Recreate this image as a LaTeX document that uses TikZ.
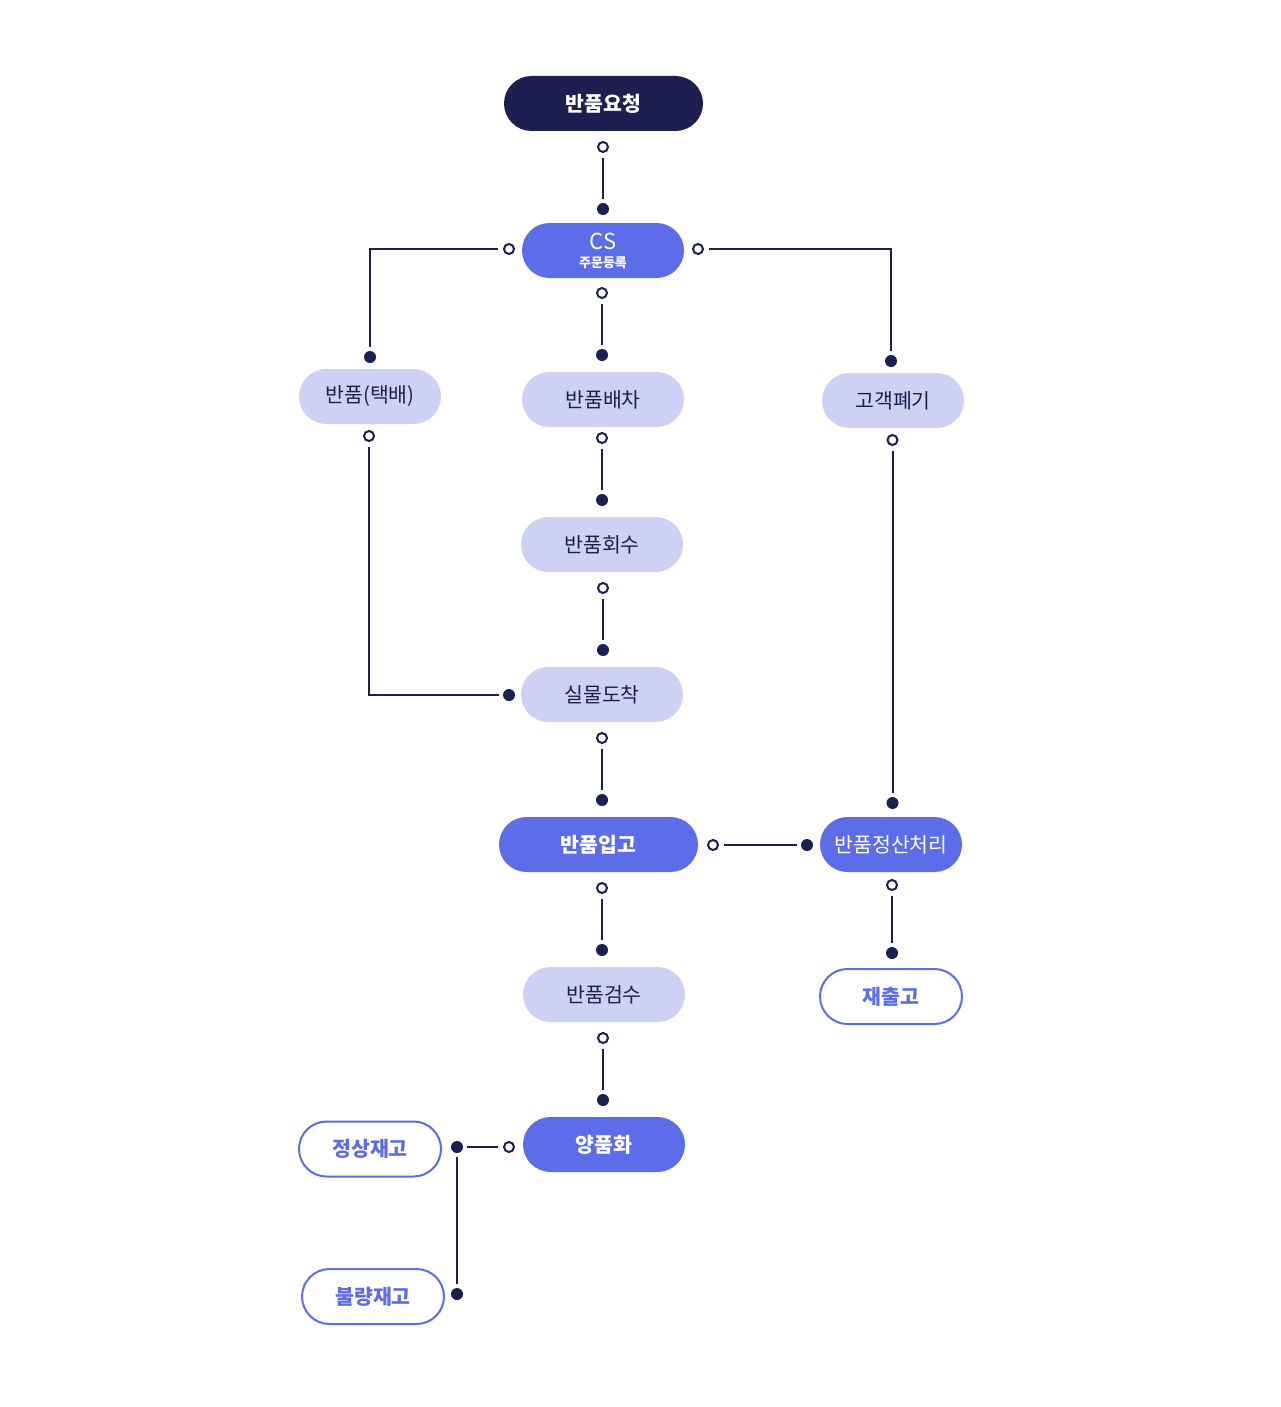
\documentclass[tikz,border=0pt]{standalone}
\usepackage{fontspec}
\setmainfont{Noto Sans CJK KR}
\definecolor{navy}{HTML}{1B2050}
\definecolor{bblue}{HTML}{5D6CE8}
\definecolor{lblue}{HTML}{CDD1F3}
\begin{document}
\begin{tikzpicture}[x=1pt,y=-1pt,
  box/.style={rounded corners=27.5pt, minimum height=55pt, inner sep=0pt, font=\fontsize{20.5}{22}\selectfont},
  darkbox/.style={box, fill=navy, text=white, font=\fontsize{20.5}{22}\selectfont\bfseries},
  bluebox/.style={box, fill=bblue, text=white, font=\fontsize{20.5}{22}\selectfont\bfseries},
  bluereg/.style={box, fill=bblue, text=white},
  lightbox/.style={box, fill=lblue, text=navy},
  outbox/.style={box, draw=bblue, line width=2pt, fill=white, text=bblue, font=\fontsize{20.5}{22}\selectfont\bfseries},
  ring/.style={circle, draw=navy, line width=2pt, fill=white, inner sep=0pt, minimum size=10pt, outer sep=6pt},
  dot/.style={circle, fill=navy, inner sep=0pt, minimum size=12pt, outer sep=4pt},
  conn/.style={draw=navy, line width=2pt}]
\useasboundingbox (0,0) rectangle (1280,1407);
\fill[white] (0,0) rectangle (1280,1407);

% boxes
\node[darkbox, minimum width=199pt] (req) at (603.5,103.5) {반품요청};
\node[bluebox, minimum width=162pt] (cs) at (603,250.5) {};
\node[text=white, font=\fontsize{22}{24}\selectfont] (cst) at (603,241) {CS};
\node[text=white, font=\fontsize{13}{14}\selectfont\bfseries] (csl) at (603,263) {주문등록};
\node[lightbox, minimum width=142pt] (tb) at (370,396.5) {반품(택배)};
\node[lightbox, minimum width=162pt] (bc) at (603,399.5) {반품배차};
\node[lightbox, minimum width=142pt] (cd) at (893,400.5) {고객폐기};
\node[lightbox, minimum width=162pt] (hs) at (602,544.5) {반품회수};
\node[lightbox, minimum width=162pt] (ar) at (602,694.5) {실물도착};
\node[bluebox, minimum width=199pt] (ib) at (598.5,844.5) {반품입고};
\node[bluereg, minimum width=142pt] (st) at (891,844.5) {반품정산처리};
\node[outbox, minimum width=142pt] (rs) at (891,996.5) {재출고};
\node[lightbox, minimum width=162pt] (gs) at (604,994.5) {반품검수};
\node[bluebox, minimum width=162pt] (yp) at (604,1144.5) {양품화};
\node[outbox, minimum width=142pt] (ns) at (370,1149) {정상재고};
\node[outbox, minimum width=142pt] (bs) at (373,1296.5) {불량재고};

% rings and dots
\node[ring] (r1) at (603,147) {};
\node[dot] (d1) at (603,209) {};
\node[ring] (r2l) at (509,249) {};
\node[dot] (d2l) at (370,357) {};
\node[ring] (r2r) at (698,249) {};
\node[dot] (d2r) at (891,361) {};
\node[ring] (r2b) at (602,293) {};
\node[dot] (d2b) at (602,355) {};
\node[ring] (r3) at (369,436) {};
\node[dot] (d3) at (509,695) {};
\node[ring] (r4) at (602,438) {};
\node[dot] (d4) at (602,500) {};
\node[ring] (r5) at (603,588) {};
\node[dot] (d5) at (603,650) {};
\node[ring] (r6) at (602,738) {};
\node[dot] (d6) at (602,800) {};
\node[ring] (r7) at (892.5,440) {};
\node[dot] (d7) at (892.5,803) {};
\node[ring] (r8) at (713,845) {};
\node[dot] (d8) at (807,845) {};
\node[ring] (r9) at (892,885) {};
\node[dot] (d9) at (892,953) {};
\node[ring] (r10) at (602,888) {};
\node[dot] (d10) at (602,950) {};
\node[ring] (r11) at (603,1038) {};
\node[dot] (d11) at (603,1100) {};
\node[ring] (r12) at (509,1147) {};
\node[dot] (d12) at (457,1147) {};
\node[dot] (d13) at (457,1294) {};

% connectors
\draw[conn] (r1) -- (d1);
\draw[conn] (r2l) -| (d2l);
\draw[conn] (r2r) -| (d2r);
\draw[conn] (r2b) -- (d2b);
\draw[conn] (r3) |- (d3);
\draw[conn] (r4) -- (d4);
\draw[conn] (r5) -- (d5);
\draw[conn] (r6) -- (d6);
\draw[conn] (r7) -- (d7);
\draw[conn] (r8) -- (d8);
\draw[conn] (r9) -- (d9);
\draw[conn] (r10) -- (d10);
\draw[conn] (r11) -- (d11);
\draw[conn] (r12) -- (d12);
\draw[conn] (d12) -- (d13);
\end{tikzpicture}
\end{document}
